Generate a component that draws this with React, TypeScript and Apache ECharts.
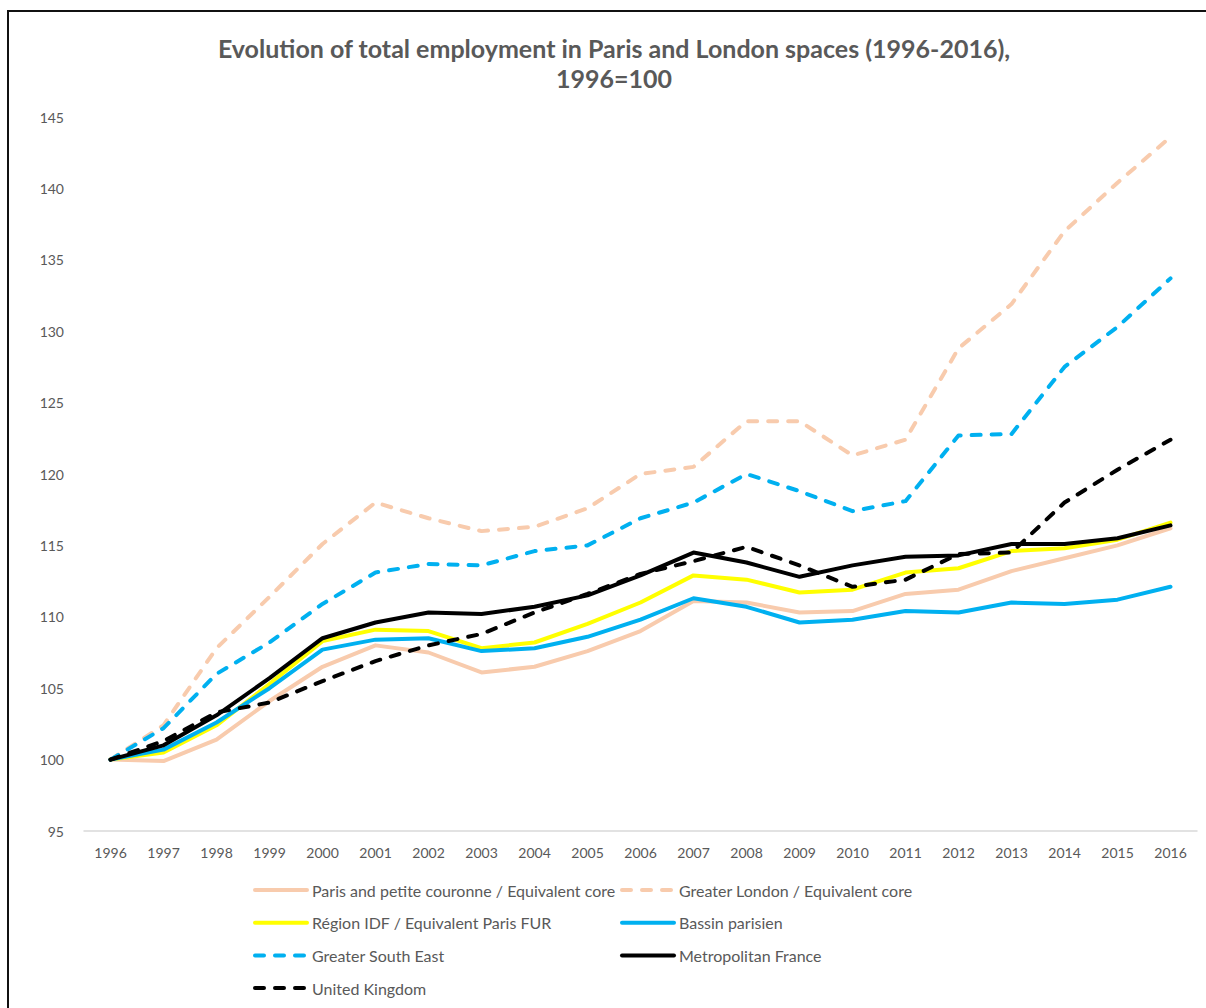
import React, { useEffect, useRef } from "react";
import * as echarts from "echarts";

const years = ["1996","1997","1998","1999","2000","2001","2002","2003","2004","2005","2006","2007","2008","2009","2010","2011","2012","2013","2014","2015","2016"];

const parisCore = [100, 99.9, 101.4, 104.1, 106.5, 108.0, 107.5, 106.1, 106.5, 107.6, 109.0, 111.1, 111.0, 110.3, 110.4, 111.6, 111.9, 113.2, 114.1, 115.0, 116.2];
const greaterLondon = [100, 102.4, 107.8, 111.4, 115.1, 118.0, 116.9, 116.0, 116.3, 117.6, 120.0, 120.5, 123.7, 123.7, 121.3, 122.4, 128.8, 131.9, 137.0, 140.4, 143.6];
const regionIDF = [100, 100.5, 102.4, 105.3, 108.3, 109.1, 109.0, 107.8, 108.2, 109.5, 111.0, 112.9, 112.6, 111.7, 111.9, 113.1, 113.4, 114.6, 114.8, 115.4, 116.6];
const bassinParisien = [100, 100.7, 102.6, 105.0, 107.7, 108.4, 108.5, 107.6, 107.8, 108.6, 109.8, 111.3, 110.7, 109.6, 109.8, 110.4, 110.3, 111.0, 110.9, 111.2, 112.1];
const greaterSouthEast = [100, 102.2, 106.0, 108.2, 110.9, 113.1, 113.7, 113.6, 114.6, 115.0, 116.9, 118.0, 120.0, 118.8, 117.4, 118.1, 122.7, 122.8, 127.5, 130.3, 133.7];
const metroFrance = [100, 101.0, 103.1, 105.7, 108.5, 109.6, 110.3, 110.2, 110.7, 111.5, 112.9, 114.5, 113.8, 112.8, 113.6, 114.2, 114.3, 115.1, 115.1, 115.5, 116.4];
const unitedKingdom = [100, 101.3, 103.3, 104.0, 105.5, 106.9, 108.0, 108.8, 110.3, 111.6, 113.0, 113.9, 114.9, 113.6, 112.1, 112.6, 114.4, 114.5, 118.0, 120.3, 122.4];

const seriesNames = [
  "Paris and petite couronne / Equivalent core",
  "Greater London / Equivalent core",
  "Région IDF / Equivalent Paris FUR",
  "Bassin parisien",
  "Greater South East",
  "Metropolitan France",
  "United Kingdom",
];

const titleLine1 = "Evolution of total employment in Paris and London spaces (1996-2016),";
const titleLine2 = "1996=100";

const FONT = "Lato, 'Noto Sans', sans-serif";
const GREY = "#595959";
const DASH = [9, 11];

export default function App() {
  const ref = useRef<HTMLDivElement>(null);
  useEffect(() => {
    if (!ref.current) return;
    const chart = echarts.init(ref.current, undefined, { renderer: "svg" });
    const mk = (name: string, data: number[], color: string, dashed: boolean) => ({
      name,
      type: "line",
      data,
      symbol: "none",
      smooth: false,
      lineStyle: {
        color,
        width: 4,
        type: dashed ? DASH : "solid",
        cap: "round",
        join: "round",
      },
      itemStyle: { color },
      emphasis: { disabled: true },
    });
    const legendBase = {
      orient: "vertical",
      top: 882,
      padding: 0,
      itemWidth: 52,
      itemHeight: 16,
      itemGap: 16.7,
      selectedMode: false,
      itemStyle: { opacity: 0, borderWidth: 0 },
      lineStyle: { width: 4, cap: "round" },
      textStyle: { color: GREY, fontSize: 16, fontFamily: FONT, lineHeight: 16 },
    };
    chart.setOption({
      animation: false,
      backgroundColor: "#ffffff",
      textStyle: { fontFamily: FONT },
      graphic: [
        {
          type: "text",
          x: 614,
          y: 48,
          style: {
            text: titleLine1,
            textAlign: "center",
            textVerticalAlign: "middle",
            fontSize: 25,
            fontWeight: "bold",
            fontFamily: FONT,
            fill: GREY,
          },
        },
        {
          type: "text",
          x: 614,
          y: 78,
          style: {
            text: titleLine2,
            textAlign: "center",
            textVerticalAlign: "middle",
            fontSize: 25,
            fontWeight: "bold",
            fontFamily: FONT,
            fill: GREY,
          },
        },
      ],
      grid: { left: 84, right: 9, top: 117, bottom: 177, containLabel: false },
      xAxis: {
        type: "category",
        data: years,
        boundaryGap: true,
        axisTick: { show: false },
        axisLine: { lineStyle: { color: "#d9d9d9", width: 1.5 } },
        axisLabel: { color: GREY, fontSize: 14, fontFamily: FONT, margin: 14 },
        splitLine: { show: false },
      },
      yAxis: {
        type: "value",
        min: 95,
        max: 145,
        interval: 5,
        axisLine: { show: false },
        axisTick: { show: false },
        splitLine: { show: false },
        axisLabel: { color: GREY, fontSize: 14, fontFamily: FONT, margin: 20 },
      },
      legend: [
        {
          ...legendBase,
          left: 253,
          data: [seriesNames[0], seriesNames[2], seriesNames[4], seriesNames[6]],
        },
        {
          ...legendBase,
          left: 620,
          data: [seriesNames[1], seriesNames[3], seriesNames[5]],
        },
      ],
      series: [
        mk(seriesNames[0], parisCore, "#F8CBAD", false),
        mk(seriesNames[1], greaterLondon, "#F8CBAD", true),
        mk(seriesNames[2], regionIDF, "#FFFF00", false),
        mk(seriesNames[3], bassinParisien, "#00B0F0", false),
        mk(seriesNames[4], greaterSouthEast, "#00B0F0", true),
        mk(seriesNames[5], metroFrance, "#000000", false),
        mk(seriesNames[6], unitedKingdom, "#000000", true),
      ],
    });
    return () => chart.dispose();
  }, []);
  return (
    <div style={{ position: "absolute", left: 0, top: 0, width: 1206, height: 1008, overflow: "hidden", background: "#fff" }}>
      <div ref={ref} style={{ position: "absolute", left: 0, top: 0, width: 1206, height: 1008 }} />
      <div
        style={{
          position: "absolute",
          left: 7,
          top: 10,
          width: 1220,
          height: 1020,
          borderTop: "2px solid #111",
          borderLeft: "2px solid #111",
          pointerEvents: "none",
        }}
      />
    </div>
  );
}
